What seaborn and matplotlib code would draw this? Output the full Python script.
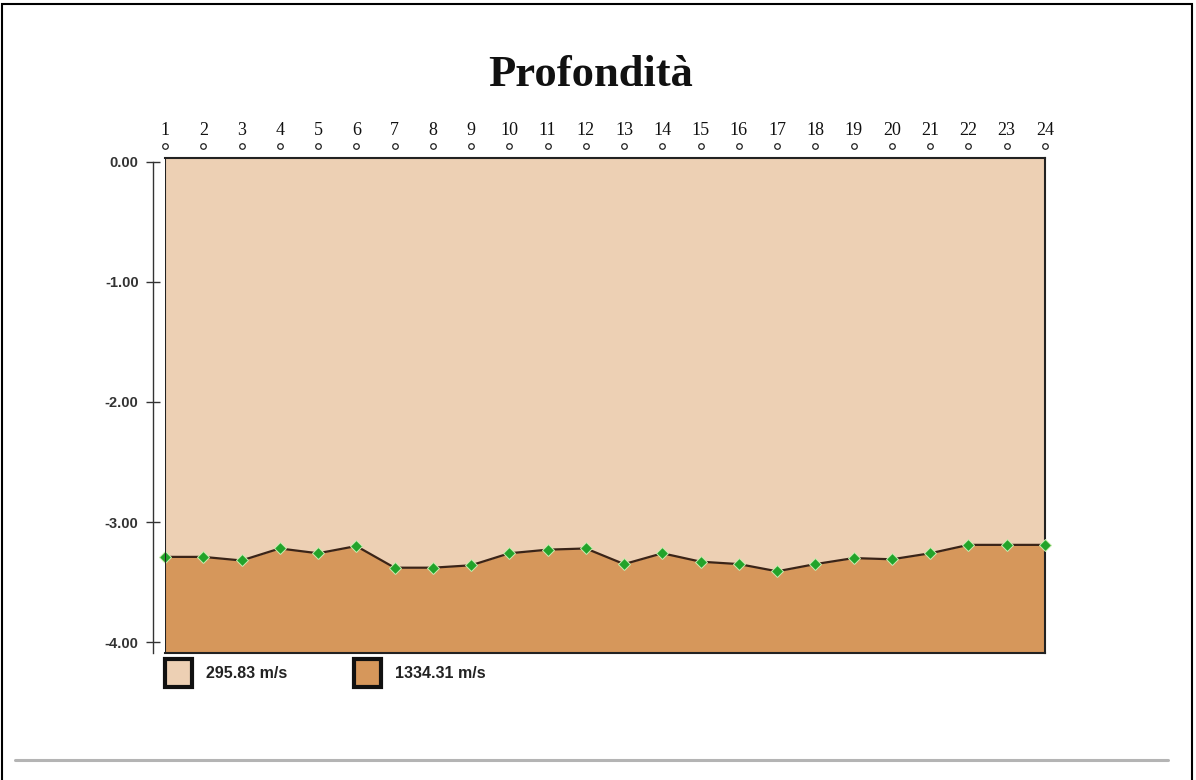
import numpy as np
import pandas as pd
import matplotlib.pyplot as plt
import seaborn as sns
from matplotlib.patches import Patch, Rectangle
from matplotlib.lines import Line2D
import matplotlib.transforms as mtransforms

# dati: geofoni e profondità dell'interfaccia
geofoni = list(range(1, 25))
profondita = [-3.29, -3.29, -3.32, -3.22, -3.26, -3.20, -3.38, -3.38, -3.36, -3.26, -3.23, -3.22,
              -3.35, -3.26, -3.33, -3.35, -3.41, -3.35, -3.30, -3.31, -3.26, -3.19, -3.19, -3.19]
velocita = [295.83, 1334.31]
colori_strati = ['#EDD0B4', '#D6975B']
y_ticks = [0.0, -1.0, -2.0, -3.0, -4.0]
y_top, y_bot = 0.03, -4.09

df = pd.DataFrame({'geofono': geofoni, 'z': profondita})

sns.set_style('white')
plt.rcParams['font.family'] = ['Liberation Sans', 'DejaVu Sans']

fig = plt.figure(figsize=(11.96, 7.8), dpi=100)
ax = fig.add_axes([165/1196, 1-653/780, 880/1196, 495/780])

# strati
ax.fill_between(df['geofono'], df['z'], y_top, color=colori_strati[0], lw=0)
ax.fill_between(df['geofono'], y_bot, df['z'], color=colori_strati[1], lw=0)

# interfaccia
sns.lineplot(data=df, x='geofono', y='z', ax=ax, color='#3a2418', lw=1.6,
             marker='D', markersize=6.5, markerfacecolor='#22a32a',
             markeredgecolor='#c9ecb0', markeredgewidth=0.7, zorder=5, clip_on=False)

ax.set_xlim(geofoni[0], geofoni[-1])
ax.set_ylim(y_bot, y_top)
ax.set_xlabel('')
ax.set_ylabel('')

# riquadro
for s in ['top', 'right', 'bottom']:
    ax.spines[s].set_color('#222222')
    ax.spines[s].set_linewidth(1.5)
    ax.spines[s].set_visible(True)
ax.axvline(geofoni[0], color='#222222', lw=1.5, zorder=6)

# asse y staccato
ax.spines['left'].set_visible(True)
ax.spines['left'].set_position(('outward', 9))
ax.spines['left'].set_bounds(y_bot, 0)
ax.spines['left'].set_color('#333333')
ax.spines['left'].set_linewidth(1)
ax.set_yticks(y_ticks)
ax.set_yticklabels([f'{v:.2f}' for v in y_ticks], fontsize=10.5, fontweight='bold', color='#333333')
ax.tick_params(axis='y', direction='inout', length=10, width=1, color='#333333', pad=5, left=True)

# numeri dei geofoni in alto
ax.xaxis.tick_top()
ax.set_xticks(geofoni)
ax.set_xticklabels([str(g) for g in geofoni], family=['Liberation Serif', 'DejaVu Serif'],
                   fontsize=13, color='#111111')
ax.tick_params(axis='x', length=0, pad=14)

trans = mtransforms.blended_transform_factory(ax.transData, ax.transAxes)
ax.scatter(geofoni, [1.024] * len(geofoni), transform=trans, marker='o', s=16,
           facecolors='white', edgecolors='#222222', linewidths=0.9, clip_on=False, zorder=7)

# titolo
fig.text(591/1196, 1-75/780, 'Profondità', ha='center', va='center', fontsize=32,
         fontweight='bold', family=['Liberation Serif', 'DejaVu Serif'], color='#111111')

# legenda
handles = [Patch(facecolor=c, edgecolor='#111111', linewidth=3) for c in colori_strati]
labels = [f'{v:.2f} m/s' for v in velocita]
leg = ax.legend(handles, labels, loc='upper left', bbox_to_anchor=(0.0, -0.012), ncol=2,
                frameon=False, handlelength=1.7, handleheight=2.3, handletextpad=0.85,
                columnspacing=4.2, borderpad=0, borderaxespad=0,
                prop={'family': ['Liberation Sans Narrow', 'Liberation Sans'], 'weight': 'bold', 'size': 11.5})
for t in leg.get_texts():
    t.set_color('#222222')

# linea grigia e cornice pagina
fig.add_artist(Line2D([15/1196, 1168/1196], [1-760/780, 1-760/780], color='#b4b4b4', lw=2.2))
fig.add_artist(Rectangle((0.002, -0.01), 0.995, 1.005, transform=fig.transFigure,
                         fill=False, edgecolor='black', lw=1.5))

fig.savefig('out.png', dpi=100)
